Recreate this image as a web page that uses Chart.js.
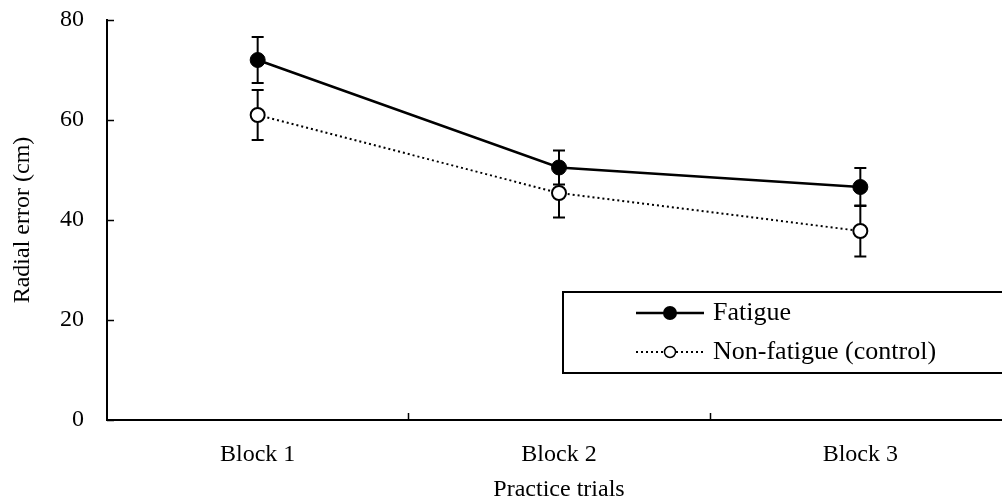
<!DOCTYPE html>
<html>
<head>
<meta charset="utf-8">
<script src="https://cdn.jsdelivr.net/npm/chart.js@4/dist/chart.umd.min.js"></script>
<style>
    html, body { margin: 0; padding: 0; background: #fff; overflow: hidden; }
    #wrap { width: 1020px; height: 501px; }
</style>
</head>
<body>
<div id="wrap"><canvas id="chart"></canvas></div>
<script>
// Datos: error radial medio por bloque de práctica
const bloques = ['Block 1', 'Block 2', 'Block 3'];
const fatiga = [72.0, 50.5, 46.6];
const fatigaError = [4.6, 3.4, 3.8];
const control = [61.0, 45.4, 37.8];
const controlError = [5.0, 4.9, 5.1];
const ticksY = [0, 20, 40, 60, 80];

const FUENTE = '"Liberation Serif", "Times New Roman", serif';
const TAM = 24;

// Barras de error dibujadas con las escalas del gráfico
const barrasError = {
    id: 'barrasError',
    beforeDatasetsDraw(chart) {
        const ctx = chart.ctx;
        const x = chart.scales.x;
        const y = chart.scales.y;
        const series = [[fatiga, fatigaError], [control, controlError]];
        ctx.save();
        ctx.strokeStyle = '#000';
        ctx.lineWidth = 2;
        series.forEach(([medias, errores]) => {
            medias.forEach((m, i) => {
                const px = x.getPixelForValue(i);
                const arriba = y.getPixelForValue(m + errores[i]);
                const abajo = y.getPixelForValue(m - errores[i]);
                ctx.beginPath();
                ctx.moveTo(px, arriba);
                ctx.lineTo(px, abajo);
                ctx.moveTo(px - 6, arriba);
                ctx.lineTo(px + 6, arriba);
                ctx.moveTo(px - 6, abajo);
                ctx.lineTo(px + 6, abajo);
                ctx.stroke();
            });
        });
        ctx.restore();
    }
};

// Marcas hacia dentro en ambos ejes
const marcasEjes = {
    id: 'marcasEjes',
    afterDraw(chart) {
        const ctx = chart.ctx;
        const x = chart.scales.x;
        const y = chart.scales.y;
        const area = chart.chartArea;
        ctx.save();
        ctx.strokeStyle = '#000';
        ctx.lineWidth = 1.5;
        ctx.beginPath();
        ticksY.forEach(v => {
            const py = Math.round(y.getPixelForValue(v)) + 0.5;
            ctx.moveTo(area.left, py);
            ctx.lineTo(area.left + 7, py);
        });
        for (let i = 1; i < bloques.length; i++) {
            const px = Math.round((x.getPixelForValue(i) + x.getPixelForValue(i - 1)) / 2) + 0.5;
            ctx.moveTo(px, area.bottom);
            ctx.lineTo(px, area.bottom - 7);
        }
        ctx.stroke();
        ctx.restore();
    }
};

// Leyenda con recuadro
const leyenda = {
    id: 'leyenda',
    afterDraw(chart) {
        const ctx = chart.ctx;
        ctx.save();
        ctx.strokeStyle = '#000';
        ctx.lineWidth = 2;
        ctx.fillStyle = '#fff';
        ctx.fillRect(563, 292, 470, 81);
        ctx.strokeRect(563, 292, 470, 81);

        // Fatigue
        ctx.lineWidth = 2.5;
        ctx.beginPath();
        ctx.moveTo(636, 313);
        ctx.lineTo(704, 313);
        ctx.stroke();
        ctx.fillStyle = '#000';
        ctx.beginPath();
        ctx.arc(670, 313, 7, 0, Math.PI * 2);
        ctx.fill();

        // Non-fatigue
        ctx.lineWidth = 2;
        ctx.setLineDash([2, 3]);
        ctx.beginPath();
        ctx.moveTo(636, 352);
        ctx.lineTo(704, 352);
        ctx.stroke();
        ctx.setLineDash([]);
        ctx.fillStyle = '#fff';
        ctx.lineWidth = 1.5;
        ctx.beginPath();
        ctx.arc(670, 352, 5.5, 0, Math.PI * 2);
        ctx.fill();
        ctx.stroke();

        ctx.fillStyle = '#000';
        ctx.font = '26px ' + FUENTE;
        ctx.textBaseline = 'middle';
        ctx.textAlign = 'left';
        ctx.fillText('Fatigue', 713, 313);
        ctx.fillText('Non-fatigue (control)', 713, 352);
        ctx.restore();
    }
};

const ctx = document.getElementById('chart').getContext('2d');
const grafico = new Chart(ctx, {
    type: 'line',
    data: {
        labels: bloques,
        datasets: [
            {
                label: 'Fatigue',
                data: fatiga,
                borderColor: '#000',
                backgroundColor: '#000',
                borderWidth: 2.5,
                pointRadius: 7.5,
                pointBorderWidth: 1,
                pointBackgroundColor: '#000',
                pointBorderColor: '#000',
                tension: 0
            },
            {
                label: 'Non-fatigue (control)',
                data: control,
                borderColor: '#000',
                backgroundColor: '#fff',
                borderWidth: 2,
                borderDash: [2, 3],
                pointRadius: 7,
                pointBorderWidth: 2,
                pointBackgroundColor: '#fff',
                pointBorderColor: '#000',
                tension: 0
            }
        ]
    },
    options: {
        responsive: true,
        maintainAspectRatio: false,
        animation: false,
        layout: { padding: { top: 20, right: 6, left: 0, bottom: 0 } },
        plugins: {
            legend: { display: false },
            tooltip: { enabled: false }
        },
        scales: {
            x: {
                offset: true,
                grid: { display: false, offset: true, drawTicks: false },
                border: { display: true, color: '#000', width: 2 },
                ticks: {
                    color: '#000',
                    padding: 20,
                    font: { family: FUENTE, size: TAM }
                },
                title: {
                    display: true,
                    text: 'Practice trials',
                    color: '#000',
                    padding: { top: 0, bottom: -3 },
                    font: { family: FUENTE, size: TAM }
                },
                afterFit(scale) {
                    scale.height = 81;
                    scale.paddingLeft = 0;
                    scale.paddingRight = 0;
                }
            },
            y: {
                min: 0,
                max: 80,
                afterBuildTicks(scale) {
                    scale.ticks = ticksY.map(v => ({ value: v }));
                },
                grid: { display: false, drawTicks: false },
                border: { display: true, color: '#000', width: 2 },
                ticks: {
                    color: '#000',
                    padding: 23,
                    font: { family: FUENTE, size: TAM }
                },
                title: {
                    display: true,
                    text: 'Radial error (cm)',
                    color: '#000',
                    padding: { top: 8, bottom: 0 },
                    font: { family: FUENTE, size: TAM }
                },
                afterFit(scale) {
                    scale.width = 107;
                    scale.paddingTop = 0;
                    scale.paddingBottom = 0;
                }
            }
        }
    },
    plugins: [barrasError, marcasEjes, leyenda]
});
</script>
</body>
</html>
